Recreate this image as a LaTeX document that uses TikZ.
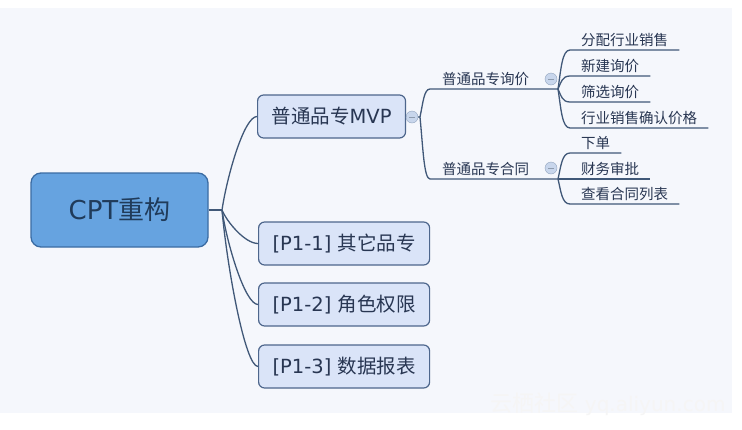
\documentclass[tikz,border=0pt]{standalone}
\usepackage{fontspec}
\setmainfont{DejaVu Sans}
\newfontfamily\cjk{Noto Sans CJK SC}
\usetikzlibrary{calc}
\definecolor{bgGrey}{RGB}{245,247,252}
\definecolor{rootBlue}{RGB}{102,163,224}
\definecolor{rootEdge}{RGB}{59,108,163}
\definecolor{topicBlue}{RGB}{218,228,248}
\definecolor{topicEdge}{RGB}{77,102,140}
\definecolor{lineBlue}{RGB}{64,88,120}
\definecolor{textNavy}{RGB}{40,54,82}
\definecolor{iconBlue}{RGB}{200,214,236}

\tikzset{
  rootbox/.style={draw=rootEdge, fill=rootBlue, line width=1.3pt, rounded corners=10pt,
    minimum width=177pt, minimum height=74pt, text=rootEdge!55!black,
    font=\fontsize{26}{30}\selectfont},
  topicbox/.style={draw=topicEdge, fill=topicBlue, line width=1.2pt, rounded corners=6pt,
    minimum height=43pt, inner xsep=14pt, anchor=west, text=textNavy,
    font=\fontsize{19.5}{23}\selectfont},
  subtopic/.style={anchor=south west, inner xsep=12pt, inner ysep=2pt, text height=11pt,
    text depth=2pt, text=textNavy, font=\cjk\fontsize{14.5}{17}\selectfont},
  leaf/.style={subtopic, inner xsep=11pt},
  foldicon/.style={circle, draw=iconBlue!60!lineBlue, fill=iconBlue, minimum size=12pt,
    inner sep=0pt, path picture={\draw[lineBlue!60, line width=0.7pt]
      ($(path picture bounding box.center)+(-3,0)$) -- ++(6,0);}},
  link/.style={lineBlue, line width=1.3pt},
  rootlink/.style={to path={.. controls ($(\tikztostart)!0.36!(\tikztostart|-\tikztotarget)+(5,0)$)
    and ($(\tikztotarget)+(-13,0)$) .. (\tikztotarget)}},
  bracelink/.style={to path={.. controls ($(\tikztostart)!0.5!(\tikztostart|-\tikztotarget)+(3,0)$)
    and ($(\tikztostart|-\tikztotarget)+(4,0)$) .. (\tikztotarget)}},
}

\begin{document}
\begin{tikzpicture}[x=1pt, y=-1pt]
  % Background
  \fill[white] (0,0) rectangle (742,429);
  \fill[bgGrey] (0,8) rectangle (732,413);
  \useasboundingbox (0,0) rectangle (742,429);

  % Root
  \node[rootbox] (root) at (119.5,210) {CPT{\cjk 重构}};
  \coordinate (rootfork) at (222,210);

  % Main topics
  \node[topicbox] (mvp) at (257,116.5) {{\cjk 普通品专}MVP};
  \node[topicbox] (p11) at (258,243.5) {[P1-1] {\cjk 其它品专}};
  \node[topicbox] (p12) at (258,304.5) {[P1-2] {\cjk 角色权限}};
  \node[topicbox] (p13) at (258,366.5) {[P1-3] {\cjk 数据报表}};

  \draw[link] (root.east) -- (rootfork);
  \foreach \t in {mvp,p11,p12,p13}
    \draw[link] (rootfork) to[rootlink] (\t.west);

  % MVP subtopics
  \node[foldicon] (mvpfold) at (412,117) {};
  \coordinate (mvpfork) at (420,117);
  \draw[link] (mvp.east) -- (mvpfold) -- (mvpfork);

  \node[subtopic] (ask) at (430,89) {普通品专询价};
  \node[foldicon] (askfold) at (551,79) {};
  \coordinate (askfork) at (558,89);
  \draw[link] (mvpfork) to[bracelink] (ask.south west) -- (askfork);

  \node[subtopic] (deal) at (430,179) {普通品专合同};
  \node[foldicon] (dealfold) at (551,168) {};
  \coordinate (dealfork) at (558,179);
  \draw[link] (mvpfork) to[bracelink] (deal.south west) -- (dealfork);

  % Leaves
  \foreach \name/\y/\txt in {assign/50/分配行业销售, create/76/新建询价,
      filter/102/筛选询价, confirm/128/行业销售确认价格} {
    \node[leaf] (\name) at (570,\y) {\txt};
    \draw[link] (askfork) to[bracelink] (\name.south west) -- (\name.south east);
  }
  \foreach \name/\y/\txt in {order/153/下单, audit/179/财务审批, list/204/查看合同列表} {
    \node[leaf] (\name) at (570,\y) {\txt};
    \draw[link] (dealfork) to[bracelink] (\name.south west) -- (\name.south east);
  }

  % Watermark
  \node[text=white!92!gray, font=\fontsize{20}{24}\selectfont] (mark) at (608,404)
    {{\cjk\fontsize{22}{24}\selectfont 云栖社区} yq.aliyun.com};
\end{tikzpicture}
\end{document}
